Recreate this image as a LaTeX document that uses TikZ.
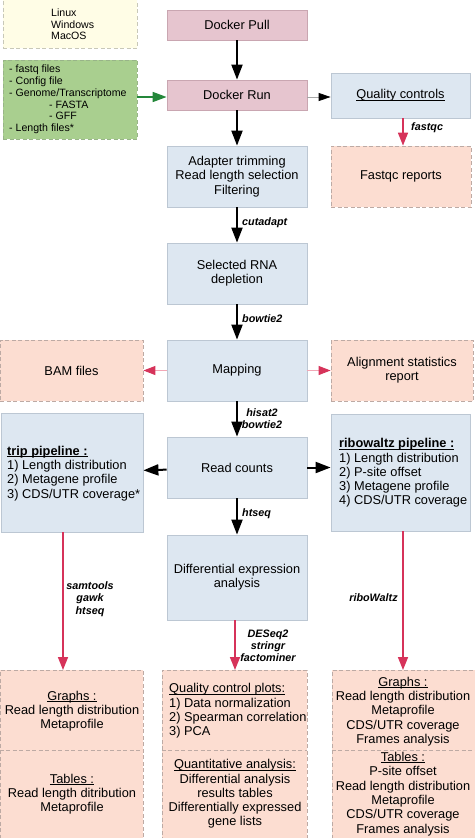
\documentclass[tikz,border=0pt]{standalone}
\usepackage{fontspec}
\setmainfont{Liberation Sans}
\usetikzlibrary{arrows.meta}
\definecolor{dockfill}{HTML}{E6C5CF}
\definecolor{dockdraw}{HTML}{C9A6B1}
\definecolor{bluefill}{HTML}{DDE7F1}
\definecolor{bluedraw}{HTML}{BCC7D3}
\definecolor{salfill}{HTML}{FCDDD1}
\definecolor{saldraw}{HTML}{BDAAA4}
\definecolor{yelfill}{HTML}{FFFDE6}
\definecolor{yeldraw}{HTML}{C8C8B8}
\definecolor{grnfill}{HTML}{A9CF8F}
\definecolor{grndraw}{HTML}{98B488}
\definecolor{redarr}{HTML}{D6335A}
\definecolor{pinkline}{HTML}{F2A7B6}
\definecolor{grnarr}{HTML}{24873A}
\newcommand\ulx[1]{\setbox0=\hbox{#1}\rlap{\rule[-1.6pt]{\wd0}{0.7pt}}\box0}
\tikzset{
  mainfont/.style={font=\fontsize{12.8}{14.3}\selectfont},
  smallfont/.style={font=\fontsize{10.6}{11.7}\selectfont},
  toolfont/.style={font=\fontsize{10.8}{12.2}\selectfont\bfseries\itshape},
  dockbox/.style={draw=dockdraw, fill=dockfill, line width=0.8pt, mainfont, align=center, inner sep=0pt, minimum width=140pt},
  bluebox/.style={draw=bluedraw, fill=bluefill, line width=0.8pt, mainfont, align=center, inner sep=0pt, minimum width=140pt},
  salbox/.style={draw=saldraw, fill=salfill, dashed, dash pattern=on 4pt off 2.5pt, line width=0.8pt, mainfont, align=center, inner sep=0pt},
  txt/.style={mainfont, inner sep=0pt},
  tool/.style={toolfont, inner sep=0pt, align=center},
  blackarrow/.style={line width=2pt, -{Triangle[length=15pt,width=11pt]}},
  redarrow/.style={draw=redarr, line width=1.6pt, -{Triangle[length=13pt,width=10pt]}},
  pinkarrow/.style={draw=pinkline, line width=1pt, -{Triangle[length=12pt,width=9pt,color=redarr]}},
}
\begin{document}
\begin{tikzpicture}[x=1pt,y=-1pt]
\useasboundingbox (0,0) rectangle (474,838);
% left top boxes
\node[draw=yeldraw, fill=yelfill, dashed, dash pattern=on 4pt off 2.5pt, line width=0.8pt, minimum width=134pt, minimum height=52pt, inner sep=0pt] (os) at (70,22) {};
\node[smallfont, align=left, anchor=west, inner sep=0pt] (ostxt) at (51,24.5) {Linux\\Windows\\MacOS};
\node[draw=grndraw, fill=grnfill, dashed, dash pattern=on 4pt off 2.5pt, line width=0.8pt, minimum width=134pt, minimum height=79pt, inner sep=0pt] (input) at (70,99.5) {};
\node[smallfont, align=left, anchor=west, inner sep=0pt] (inputtxt) at (9,99.5) {- fastq files\\- Config file\\- Genome/Transcriptome\\\hspace*{40pt}- FASTA\\\hspace*{40pt}- GFF\\- Length files*};
% main column
\node[dockbox, minimum height=30pt] (pull) at (237,25) {Docker Pull};
\node[dockbox, minimum height=30pt] (run) at (237,95) {Docker Run};
\node[bluebox, minimum height=61pt] (adapter) at (237,176.5) {Adapter trimming\\Read length selection\\Filtering};
\node[bluebox, minimum height=61pt] (selected) at (237,273.5) {Selected RNA\\depletion};
\node[bluebox, minimum height=61pt] (mapping) at (237,370.5) {Mapping};
\node[bluebox, minimum height=61pt] (counts) at (237,467.5) {Read counts};
\node[bluebox, minimum height=85pt] (diff) at (237,577.5) {Differential expression\\analysis};
% right column
\node[bluebox, minimum width=139pt, minimum height=45pt] (qc) at (400.5,95.5) {\ulx{Quality controls}};
\node[salbox, minimum width=140pt, minimum height=61pt] (fastqc) at (401,176.5) {Fastqc reports};
\node[salbox, minimum width=142pt, minimum height=61pt] (align) at (402,370.5) {Alignment statistics\\report};
\node[bluebox, minimum width=139pt, minimum height=117pt] (ribo) at (400.5,472.5) {};
\node[txt, align=left, anchor=west] (ribotxt) at (339,473) {\ulx{\textbf{ribowaltz pipeline :}}\\1) Length distribution\\2) P-site offset\\3) Metagene profile\\4) CDS/UTR coverage};
% left column
\node[salbox, minimum width=143pt, minimum height=61pt] (bam) at (71.5,370.5) {BAM files};
\node[bluebox, minimum width=142pt, minimum height=119pt] (trip) at (72,472.5) {};
\node[txt, align=left, anchor=west] (triptxt) at (7,473.5) {\ulx{\textbf{trip pipeline :}}\\1) Length distribution\\2) Metagene profile\\3) CDS/UTR coverage*};
% bottom boxes
\node[salbox, minimum width=143pt, minimum height=180pt, anchor=north] (bl) at (71.5,670) {};
\node[salbox, minimum width=145pt, minimum height=180pt, anchor=north] (bc) at (234.5,670) {};
\node[salbox, minimum width=143pt, minimum height=180pt, anchor=north] (br) at (403.5,670) {};
\draw[draw=saldraw, dashed, dash pattern=on 4pt off 2.5pt, line width=0.8pt] (bl.west |- 0,750) -- (bl.east |- 0,750);
\draw[draw=saldraw, dashed, dash pattern=on 4pt off 2.5pt, line width=0.8pt] (bc.west |- 0,750) -- (bc.east |- 0,750);
\draw[draw=saldraw, dashed, dash pattern=on 4pt off 2.5pt, line width=0.8pt] (br.west |- 0,750) -- (br.east |- 0,750);
\node[txt, align=center] (blup) at (72,711) {\ulx{Graphs :}\\Read length distribution\\Metaprofile};
\node[txt, align=center] (bllow) at (72,794) {\ulx{Tables :}\\Read length ditribution\\Metaprofile};
\node[txt, align=left, anchor=west] (bcup) at (169,711) {\ulx{Quality control plots:}\\1) Data normalization\\2) Spearman correlation\\3) PCA};
\node[txt, align=center] (bclow) at (235,794) {\ulx{Quantitative analysis:}\\Differential analysis\\results tables\\Differentially expressed\\gene lists};
\node[txt, align=center] (brup) at (403,711.5) {\ulx{Graphs :}\\Read length distribution\\Metaprofile\\CDS/UTR coverage\\Frames analysis};
\node[txt, align=center] (brlow) at (403,794) {\ulx{Tables :}\\P-site offset\\Read length distribution\\Metaprofile\\CDS/UTR coverage\\Frames analysis};
% arrows
\draw[blackarrow] (pull) -- (run);
\draw[blackarrow] (run) -- (adapter);
\draw[blackarrow] (adapter) -- (selected);
\draw[blackarrow] (selected) -- (mapping);
\draw[blackarrow] (mapping) -- (counts);
\draw[blackarrow] (counts) -- (diff);
\draw[blackarrow] (counts) -- (trip);
\draw[blackarrow] (counts) -- (ribo.west |- counts);
\draw[draw=grnarr, line width=1.6pt, -{Triangle[length=14pt,width=10pt]}] (input.east |- 0,97) -- (run.west |- 0,97);
\draw[draw=gray!70, line width=0.8pt, -{Triangle[length=12pt,width=8pt,color=black]}] (run.east |- 0,97) -- (qc.west |- 0,97);
\draw[redarrow] (qc.south -| 403,0) -- (fastqc.north -| 403,0);
\draw[pinkarrow] (mapping) -- (bam);
\draw[pinkarrow] (mapping) -- (align);
\draw[redarrow] (trip.south -| 63,0) -- (bl.north -| 63,0);
\draw[redarrow] (diff.south -| 235,0) -- (bc.north -| 235,0);
\draw[redarrow] (ribo.south -| 403,0) -- (br.north -| 403,0);
% tool labels
\node[tool, anchor=west] (lfastqc) at (411,128) {fastqc};
\node[tool, anchor=west] (lcut) at (242,223) {cutadapt};
\node[tool, anchor=west] (lbow) at (242,319) {bowtie2};
\node[tool] (lhisat) at (262,419) {hisat2\\bowtie2};
\node[tool, anchor=west] (lhtseq) at (242,514) {htseq};
\node[tool] (lsam) at (90,599) {samtools\\gawk\\htseq};
\node[tool] (ldeseq) at (268,646) {DESeq2\\stringr\\factominer};
\node[tool] (lribo) at (373.5,598) {riboWaltz};
\end{tikzpicture}
\end{document}
